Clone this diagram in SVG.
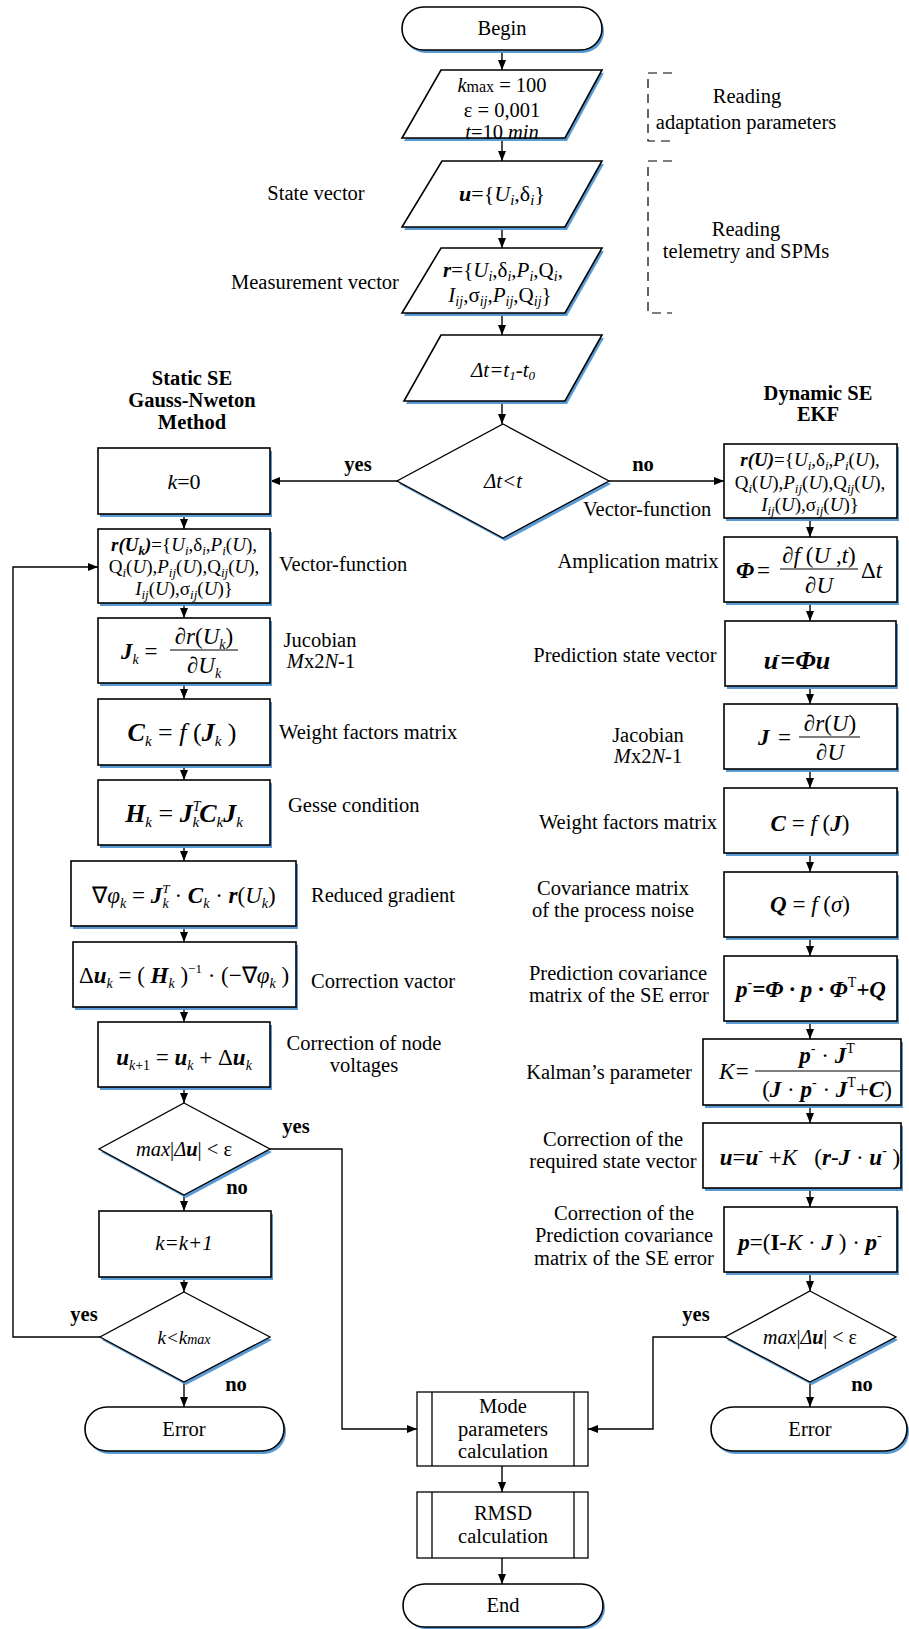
<svg xmlns="http://www.w3.org/2000/svg" width="909" height="1629" viewBox="0 0 909 1629">
<style>
.n{fill:#fff;stroke:#000;stroke-width:1.6}
.nd{fill:#fff;stroke:#000;stroke-width:1.3}
.sh{fill:#5B9BD5}
.c{fill:none;stroke:#000;stroke-width:1.4}
.br{fill:none;stroke:#000;stroke-width:1.2;stroke-dasharray:9,6}
text{font-family:"Liberation Serif","Times New Roman",serif;fill:#000}
.l{font-size:20.5px}
.m{font-size:23px}
.i{font-style:italic}
.b{font-weight:bold}
.bi{font-weight:bold;font-style:italic}
.mid{text-anchor:middle}
</style>
<defs>
<marker id="a" markerWidth="10" markerHeight="10" refX="10" refY="5" orient="auto" markerUnits="userSpaceOnUse"><path d="M0,1 L10,5 L0,9 z" fill="#000"/></marker>
</defs>
<rect width="909" height="1629" fill="#fff"/>

<g id="connectors">
<path class="c" d="M502,50 V70" marker-end="url(#a)"/>
<path class="c" d="M502,138 V161" marker-end="url(#a)"/>
<path class="c" d="M502,227 V248" marker-end="url(#a)"/>
<path class="c" d="M502,313 V335" marker-end="url(#a)"/>
<path class="c" d="M502,401 V424" marker-end="url(#a)"/>
<path class="c" d="M397,481 H270" marker-end="url(#a)"/>
<path class="c" d="M609,481 H724" marker-end="url(#a)"/>
<path class="c" d="M184,514 V529" marker-end="url(#a)"/>
<path class="c" d="M184,603 V618" marker-end="url(#a)"/>
<path class="c" d="M184,683 V699" marker-end="url(#a)"/>
<path class="c" d="M184,765 V780" marker-end="url(#a)"/>
<path class="c" d="M184,845 V861" marker-end="url(#a)"/>
<path class="c" d="M184,926 V942" marker-end="url(#a)"/>
<path class="c" d="M184,1007 V1022" marker-end="url(#a)"/>
<path class="c" d="M184,1087 V1103" marker-end="url(#a)"/>
<path class="c" d="M184,1195 V1211" marker-end="url(#a)"/>
<path class="c" d="M184,1277 V1292" marker-end="url(#a)"/>
<path class="c" d="M184,1382 V1407" marker-end="url(#a)"/>
<path class="c" d="M100,1337 H13 V567 H98" marker-end="url(#a)"/>
<path class="c" d="M270,1149 H342 V1429 H417" marker-end="url(#a)"/>
<path class="c" d="M810,518 V537" marker-end="url(#a)"/>
<path class="c" d="M810,602 V621" marker-end="url(#a)"/>
<path class="c" d="M810,686 V704" marker-end="url(#a)"/>
<path class="c" d="M810,769 V788" marker-end="url(#a)"/>
<path class="c" d="M810,853 V872" marker-end="url(#a)"/>
<path class="c" d="M810,937 V956" marker-end="url(#a)"/>
<path class="c" d="M810,1021 V1039" marker-end="url(#a)"/>
<path class="c" d="M810,1105 V1123" marker-end="url(#a)"/>
<path class="c" d="M810,1188 V1207" marker-end="url(#a)"/>
<path class="c" d="M810,1272 V1291" marker-end="url(#a)"/>
<path class="c" d="M810,1382 V1407" marker-end="url(#a)"/>
<path class="c" d="M725,1337 H653 V1429 H588" marker-end="url(#a)"/>
<path class="c" d="M502,1466 V1492" marker-end="url(#a)"/>
<path class="c" d="M502,1558 V1584" marker-end="url(#a)"/>
</g>

<g id="labels">
<text class="l" x="316" y="200" text-anchor="middle">State vector</text>
<text class="l" x="315" y="289" text-anchor="middle">Measurement vector</text>
<path class="br" d="M672,73 H648 V141 H672"/>
<text class="l mid" x="747" y="103">Reading</text>
<text class="l mid" x="746" y="129">adaptation parameters</text>
<path class="br" d="M672,161 H648 V313 H672"/>
<text class="l mid" x="746" y="236">Reading</text>
<text class="l mid" x="746" y="258">telemetry and SPMs</text>
<text class="l b mid" x="192" y="385">Static SE</text>
<text class="l b mid" x="192" y="407">Gauss-Nweton</text>
<text class="l b mid" x="192" y="429">Method</text>
<text class="l b mid" x="818" y="400">Dynamic SE</text>
<text class="l b mid" x="818" y="421">EKF</text>
<text class="l b mid" x="358" y="471">yes</text>
<text class="l b mid" x="643" y="471">no</text>
<text class="l" x="279" y="571">Vector-function</text>
<text class="l" x="583" y="516">Vector-function</text>
<text class="l mid" x="320" y="647">Jucobian</text>
<text class="l mid" x="321" y="668"><tspan class="i">M</tspan>x2<tspan class="i">N</tspan>-1</text>
<text class="l" x="279" y="739">Weight factors matrix</text>
<text class="l" x="288" y="812">Gesse condition</text>
<text class="l" x="311" y="902">Reduced gradient</text>
<text class="l" x="311" y="988">Correction vactor</text>
<text class="l mid" x="364" y="1050">Correction of node</text>
<text class="l mid" x="364" y="1072">voltages</text>
<text class="l b mid" x="296" y="1133">yes</text>
<text class="l b mid" x="237" y="1194">no</text>
<text class="l b mid" x="84" y="1321">yes</text>
<text class="l b mid" x="236" y="1391">no</text>
<text class="l mid" x="638" y="568">Amplication matrix</text>
<text class="l mid" x="625" y="662">Prediction state vector</text>
<text class="l mid" x="648" y="742">Jacobian</text>
<text class="l mid" x="648" y="763"><tspan class="i">M</tspan>x2<tspan class="i">N</tspan>-1</text>
<text class="l mid" x="628" y="829">Weight factors matrix</text>
<text class="l mid" x="613" y="895">Covariance matrix</text>
<text class="l mid" x="613" y="917">of the process noise</text>
<text class="l mid" x="618" y="980">Prediction covariance</text>
<text class="l mid" x="619" y="1002">matrix of the SE error</text>
<text class="l mid" x="609" y="1079">Kalman’s parameter</text>
<text class="l mid" x="613" y="1146">Correction of the</text>
<text class="l mid" x="613" y="1168">required state vector</text>
<text class="l mid" x="624" y="1220">Correction of the</text>
<text class="l mid" x="624" y="1242">Prediction covariance</text>
<text class="l mid" x="624" y="1265">matrix of the SE error</text>
<text class="l b mid" x="696" y="1321">yes</text>
<text class="l b mid" x="862" y="1391">no</text>
</g>

<g id="begin">
<rect class="sh" x="404" y="10" width="200" height="43" rx="21.5"/>
<rect class="n" x="402" y="7" width="200" height="43" rx="21.5"/>
<text class="l mid" x="502" y="35">Begin</text>
</g>

<g id="params">
<polygon class="sh" points="443,73 604,73 567,141 404,141"/>
<polygon class="n" points="441,70 602,70 565,138 402,138"/>
<text class="l mid" x="502" y="92"><tspan class="i">k</tspan><tspan font-size="16">max</tspan> = 100</text>
<text class="l mid" x="502" y="117">ε = 0,001</text>
<text class="l mid" x="502" y="139"><tspan class="i">t</tspan>=10 <tspan class="i">min</tspan></text>
</g>

<g id="state">
<polygon class="sh" points="444,164 604,164 567,230 404,230"/>
<polygon class="n" points="442,161 602,161 565,227 402,227"/>
<text class="mid" x="502" y="201" font-size="22"><tspan class="bi">u</tspan>={<tspan class="i">U</tspan><tspan class="i" font-size="15" dy="4">i</tspan><tspan dy="-4">,δ</tspan><tspan class="i" font-size="15" dy="4">i</tspan><tspan dy="-4">}</tspan></text>
</g>

<g id="measure">
<polygon class="sh" points="443,251 604,251 567,316 404,316"/>
<polygon class="n" points="441,248 602,248 565,313 402,313"/>
<text class="mid" x="503" y="277" font-size="21"><tspan class="bi">r</tspan>={<tspan class="i">U</tspan><tspan class="i" font-size="14" dy="4">i</tspan><tspan dy="-4">,δ</tspan><tspan class="i" font-size="14" dy="4">i</tspan><tspan dy="-4">,</tspan><tspan class="i">P</tspan><tspan class="i" font-size="14" dy="4">i</tspan><tspan dy="-4">,Q</tspan><tspan class="i" font-size="14" dy="4">i</tspan><tspan dy="-4">,</tspan></text>
<text class="mid" x="500" y="302" font-size="21"><tspan class="i">I</tspan><tspan class="i" font-size="14" dy="4">ij</tspan><tspan dy="-4">,σ</tspan><tspan class="i" font-size="14" dy="4">ij</tspan><tspan dy="-4">,</tspan><tspan class="i">P</tspan><tspan class="i" font-size="14" dy="4">ij</tspan><tspan dy="-4">,Q</tspan><tspan class="i" font-size="14" dy="4">ij</tspan><tspan dy="-4">}</tspan></text>
</g>

<g id="deltat">
<polygon class="sh" points="443,338 604,338 567,404 406,404"/>
<polygon class="n" points="441,335 602,335 565,401 404,401"/>
<text class="i mid" x="503" y="377" font-size="21">Δt=t<tspan font-size="13" dy="3">1</tspan><tspan dy="-3">-t</tspan><tspan font-size="13" dy="3">0</tspan></text>
</g>

<g id="dec-dt">
<polygon class="sh" points="505,427 611,484 505,541 399,484"/>
<polygon class="nd" points="503,424 609,481 503,538 397,481"/>
<text class="i mid" x="503" y="488" font-size="21">Δt&lt;t</text>
</g>

<g id="k0">
<rect class="sh" x="100" y="451" width="172" height="66"/>
<rect class="n" x="98" y="448" width="172" height="66"/>
<text class="mid" x="184" y="489" font-size="22"><tspan class="i">k</tspan>=0</text>
</g>

<g id="rUk">
<rect class="sh" x="100" y="532" width="172" height="74"/>
<rect class="n" x="98" y="529" width="172" height="74"/>
<text class="mid" x="184" y="551" font-size="19"><tspan class="bi">r(U</tspan><tspan class="bi" font-size="13" dy="4">k</tspan><tspan class="bi" dy="-4">)</tspan>={<tspan class="i">U</tspan><tspan class="i" font-size="13" dy="4">i</tspan><tspan dy="-4">,δ</tspan><tspan class="i" font-size="13" dy="4">i</tspan><tspan dy="-4">,</tspan><tspan class="i">P</tspan><tspan class="i" font-size="13" dy="4">i</tspan><tspan dy="-4">(</tspan><tspan class="i">U</tspan>),</text>
<text class="mid" x="184" y="573" font-size="19">Q<tspan class="i" font-size="13" dy="4">i</tspan><tspan dy="-4">(</tspan><tspan class="i">U</tspan>),<tspan class="i">P</tspan><tspan class="i" font-size="13" dy="4">ij</tspan><tspan dy="-4">(</tspan><tspan class="i">U</tspan>),Q<tspan class="i" font-size="13" dy="4">ij</tspan><tspan dy="-4">(</tspan><tspan class="i">U</tspan>),</text>
<text class="mid" x="184" y="595" font-size="19"><tspan class="i">I</tspan><tspan class="i" font-size="13" dy="4">ij</tspan><tspan dy="-4">(</tspan><tspan class="i">U</tspan>),σ<tspan class="i" font-size="13" dy="4">ij</tspan><tspan dy="-4">(</tspan><tspan class="i">U</tspan>)}</text>
</g>

<g id="Jk">
<rect class="sh" x="100" y="621" width="172" height="65"/>
<rect class="n" x="98" y="618" width="172" height="65"/>
<text class="m" x="121" y="659"><tspan class="bi">J</tspan><tspan class="i" font-size="14" dy="5">k</tspan><tspan dy="-5"> = </tspan></text>
<line x1="170" y1="650" x2="238" y2="650" stroke="#000" stroke-width="1"/>
<text class="m mid" x="204" y="644">∂<tspan class="i">r</tspan>(<tspan class="i">U</tspan><tspan class="i" font-size="14" dy="5">k</tspan><tspan dy="-5">)</tspan></text>
<text class="m mid" x="204" y="673">∂<tspan class="i">U</tspan><tspan class="i" font-size="14" dy="5">k</tspan></text>
</g>

<g id="Ck">
<rect class="sh" x="100" y="702" width="172" height="66"/>
<rect class="n" x="98" y="699" width="172" height="66"/>
<text class="mid" x="182" y="741" font-size="26"><tspan class="bi">C</tspan><tspan class="i" font-size="15" dy="5">k</tspan><tspan dy="-5"> = </tspan><tspan class="i">f</tspan> (<tspan class="bi">J</tspan><tspan class="i" font-size="15" dy="5">k</tspan><tspan dy="-5"> )</tspan></text>
</g>

<g id="Hk">
<rect class="sh" x="100" y="783" width="172" height="65"/>
<rect class="n" x="98" y="780" width="172" height="65"/>
<text class="mid" x="184" y="822" font-size="26"><tspan class="bi">H</tspan><tspan class="i" font-size="15" dy="5">k</tspan><tspan dy="-5"> = </tspan><tspan class="bi">J</tspan><tspan class="i" font-size="14" dy="-11">T</tspan><tspan class="i" font-size="15" dx="-8" dy="16">k</tspan><tspan class="bi" dy="-5">C</tspan><tspan class="i" font-size="15" dy="5">k</tspan><tspan class="bi" dy="-5">J</tspan><tspan class="i" font-size="15" dy="5">k</tspan></text>
</g>

<g id="grad">
<rect class="sh" x="73" y="864" width="225" height="65"/>
<rect class="n" x="71" y="861" width="225" height="65"/>
<text class="m mid" x="184" y="903">∇<tspan class="i">φ</tspan><tspan class="i" font-size="14" dy="5">k</tspan><tspan dy="-5"> = </tspan><tspan class="bi">J</tspan><tspan class="i" font-size="13" dy="-10">T</tspan><tspan class="i" font-size="14" dx="-7" dy="15">k</tspan><tspan dy="-5"> · </tspan><tspan class="bi">C</tspan><tspan class="i" font-size="14" dy="5">k</tspan><tspan dy="-5"> · </tspan><tspan class="bi">r</tspan>(<tspan class="i">U</tspan><tspan class="i" font-size="14" dy="5">k</tspan><tspan dy="-5">)</tspan></text>
</g>

<g id="du">
<rect class="sh" x="75" y="945" width="223" height="65"/>
<rect class="n" x="73" y="942" width="223" height="65"/>
<text class="m mid" x="184" y="983">Δ<tspan class="bi">u</tspan><tspan class="i" font-size="14" dy="5">k</tspan><tspan dy="-5"> = ( </tspan><tspan class="bi">H</tspan><tspan class="i" font-size="14" dy="5">k</tspan><tspan dy="-5"> )</tspan><tspan font-size="13" dy="-10">−1</tspan><tspan dy="10"> · (−∇</tspan><tspan class="i">φ</tspan><tspan class="i" font-size="14" dy="5">k</tspan><tspan dy="-5"> )</tspan></text>
</g>

<g id="uk1">
<rect class="sh" x="100" y="1025" width="172" height="65"/>
<rect class="n" x="98" y="1022" width="172" height="65"/>
<text class="m mid" x="184" y="1065"><tspan class="bi">u</tspan><tspan font-size="14" dy="5"><tspan class="i">k</tspan>+1</tspan><tspan dy="-5"> = </tspan><tspan class="bi">u</tspan><tspan class="i" font-size="14" dy="5">k</tspan><tspan dy="-5"> + Δ</tspan><tspan class="bi">u</tspan><tspan class="i" font-size="14" dy="5">k</tspan></text>
</g>

<g id="dec-eps1">
<polygon class="sh" points="186,1106 272,1152 186,1198 101,1152"/>
<polygon class="nd" points="184,1103 270,1149 184,1195 99,1149"/>
<text class="mid" x="184" y="1156" font-size="20.5"><tspan class="i">max</tspan>|<tspan class="i">Δ</tspan><tspan class="bi">u</tspan>|  &lt; ε</text>
</g>

<g id="kinc">
<rect class="sh" x="101" y="1214" width="172" height="66"/>
<rect class="n" x="99" y="1211" width="172" height="66"/>
<text class="i mid" x="184" y="1250" font-size="21">k=k+1</text>
</g>

<g id="dec-kmax">
<polygon class="sh" points="186,1295 272,1340 186,1385 102,1340"/>
<polygon class="nd" points="184,1292 270,1337 184,1382 100,1337"/>
<text class="i mid" x="184" y="1344" font-size="19">k&lt;k<tspan font-size="14">max</tspan></text>
</g>

<g id="err-left">
<rect class="sh" x="87" y="1410" width="199" height="44" rx="22"/>
<rect class="n" x="85" y="1407" width="199" height="44" rx="22"/>
<text class="l mid" x="184" y="1436">Error</text>
</g>

<g id="rU">
<rect class="sh" x="726" y="447" width="173" height="74"/>
<rect class="n" x="724" y="444" width="173" height="74"/>
<text class="mid" x="810" y="466" font-size="19"><tspan class="bi">r(U)</tspan>={<tspan class="i">U</tspan><tspan class="i" font-size="13" dy="4">i</tspan><tspan dy="-4">,δ</tspan><tspan class="i" font-size="13" dy="4">i</tspan><tspan dy="-4">,</tspan><tspan class="i">P</tspan><tspan class="i" font-size="13" dy="4">i</tspan><tspan dy="-4">(</tspan><tspan class="i">U</tspan>),</text>
<text class="mid" x="810" y="489" font-size="19">Q<tspan class="i" font-size="13" dy="4">i</tspan><tspan dy="-4">(</tspan><tspan class="i">U</tspan>),<tspan class="i">P</tspan><tspan class="i" font-size="13" dy="4">ij</tspan><tspan dy="-4">(</tspan><tspan class="i">U</tspan>),Q<tspan class="i" font-size="13" dy="4">ij</tspan><tspan dy="-4">(</tspan><tspan class="i">U</tspan>),</text>
<text class="mid" x="810" y="511" font-size="19"><tspan class="i">I</tspan><tspan class="i" font-size="13" dy="4">ij</tspan><tspan dy="-4">(</tspan><tspan class="i">U</tspan>),σ<tspan class="i" font-size="13" dy="4">ij</tspan><tspan dy="-4">(</tspan><tspan class="i">U</tspan>)}</text>
</g>

<g id="phi">
<rect class="sh" x="726" y="540" width="173" height="65"/>
<rect class="n" x="724" y="537" width="173" height="65"/>
<text class="m bi" x="736" y="578">Φ</text>
<text class="m" x="757" y="578">=</text>
<line x1="780" y1="569" x2="858" y2="569" stroke="#000" stroke-width="1"/>
<text class="m mid" x="819" y="563">∂<tspan class="i">f</tspan> (<tspan class="i">U</tspan> ,<tspan class="i">t</tspan>)</text>
<text class="m mid" x="819" y="593">∂<tspan class="i">U</tspan></text>
<text class="m" x="861" y="578">Δ<tspan class="i">t</tspan></text>
</g>

<g id="pred">
<rect class="sh" x="727" y="624" width="171" height="65"/>
<rect class="n" x="725" y="621" width="171" height="65"/>
<text class="bi mid" x="797" y="669" font-size="26">u<tspan font-size="15" dx="-3" dy="-10">-</tspan><tspan dy="10">=Φu</tspan></text>
</g>

<g id="jac">
<rect class="sh" x="726" y="707" width="173" height="65"/>
<rect class="n" x="724" y="704" width="173" height="65"/>
<text class="m bi" x="758" y="745">J</text>
<text class="m" x="778" y="745">=</text>
<line x1="799" y1="737" x2="860" y2="737" stroke="#000" stroke-width="1"/>
<text class="m mid" x="830" y="731">∂<tspan class="i">r</tspan>(<tspan class="i">U</tspan>)</text>
<text class="m mid" x="830" y="760">∂<tspan class="i">U</tspan></text>
</g>

<g id="wC">
<rect class="sh" x="726" y="791" width="173" height="65"/>
<rect class="n" x="724" y="788" width="173" height="65"/>
<text class="m mid" x="810" y="831"><tspan class="bi">C</tspan> = <tspan class="i">f</tspan> (<tspan class="bi">J</tspan>)</text>
</g>

<g id="covQ">
<rect class="sh" x="726" y="875" width="173" height="65"/>
<rect class="n" x="724" y="872" width="173" height="65"/>
<text class="m mid" x="810" y="912"><tspan class="bi">Q</tspan> = <tspan class="i">f</tspan> (<tspan class="i">σ</tspan>)</text>
</g>

<g id="predcov">
<rect class="sh" x="726" y="959" width="173" height="65"/>
<rect class="n" x="724" y="956" width="173" height="65"/>
<text class="m bi mid" x="811" y="997">p<tspan font-size="14" font-style="normal" dy="-10">-</tspan><tspan dy="10">=Φ · p · Φ</tspan><tspan font-size="14" font-weight="normal" font-style="normal" dy="-10">T</tspan><tspan dy="10">+Q</tspan></text>
</g>

<g id="kalman">
<rect class="sh" x="705" y="1042" width="198" height="66"/>
<rect class="n" x="703" y="1039" width="198" height="66"/>
<text class="m i" x="719" y="1079">K=</text>
<line x1="755" y1="1071" x2="900" y2="1071" stroke="#000" stroke-width="1"/>
<text class="m mid" x="827" y="1063"><tspan class="bi">p</tspan><tspan font-size="14" dy="-10">-</tspan><tspan dy="10"> · </tspan><tspan class="bi">J</tspan><tspan font-size="14" dy="-10">T</tspan></text>
<text class="m mid" x="827" y="1097">(<tspan class="bi">J</tspan> · <tspan class="bi">p</tspan><tspan font-size="14" dy="-10">-</tspan><tspan dy="10"> · </tspan><tspan class="bi">J</tspan><tspan font-size="14" dy="-10">T</tspan><tspan dy="10">+</tspan><tspan class="bi">C</tspan>)</text>
</g>

<g id="corr-u">
<rect class="sh" x="705" y="1126" width="198" height="65"/>
<rect class="n" x="703" y="1123" width="198" height="65"/>
<text class="m mid" x="810" y="1165"><tspan class="bi">u</tspan>=<tspan class="bi">u</tspan><tspan font-size="14" dy="-10">-</tspan><tspan dy="10"> +</tspan><tspan class="i">K</tspan><tspan xml:space="preserve">   (</tspan><tspan class="bi">r</tspan>-<tspan class="bi">J</tspan> · <tspan class="bi">u</tspan><tspan font-size="14" dy="-10">-</tspan><tspan dy="10"> )</tspan></text>
</g>

<g id="corr-p">
<rect class="sh" x="726" y="1210" width="173" height="65"/>
<rect class="n" x="724" y="1207" width="173" height="65"/>
<text class="m mid" x="810" y="1250"><tspan class="bi">p</tspan>=(<tspan class="b">I</tspan>-<tspan class="i">K</tspan> · <tspan class="bi">J</tspan> ) · <tspan class="bi">p</tspan><tspan font-size="14" dy="-10">-</tspan></text>
</g>

<g id="dec-eps2">
<polygon class="sh" points="812,1294 898,1340 812,1385 727,1340"/>
<polygon class="nd" points="810,1291 896,1337 810,1382 725,1337"/>
<text class="mid" x="810" y="1344" font-size="20"><tspan class="i">max</tspan>|<tspan class="i">Δ</tspan><tspan class="bi">u</tspan>| &lt; ε</text>
</g>

<g id="err-right">
<rect class="sh" x="713" y="1410" width="196" height="44" rx="22"/>
<rect class="n" x="711" y="1407" width="196" height="44" rx="22"/>
<text class="l mid" x="810" y="1436">Error</text>
</g>

<g id="mode">
<rect class="n" x="417" y="1392" width="171" height="74" style="stroke-width:1.3"/>
<line x1="432" y1="1392" x2="432" y2="1466" stroke="#000" stroke-width="1.3"/>
<line x1="574" y1="1392" x2="574" y2="1466" stroke="#000" stroke-width="1.3"/>
<text class="l mid" x="503" y="1413">Mode</text>
<text class="l mid" x="503" y="1436">parameters</text>
<text class="l mid" x="503" y="1458">calculation</text>
</g>

<g id="rmsd">
<rect class="n" x="417" y="1492" width="171" height="66" style="stroke-width:1.3"/>
<line x1="432" y1="1492" x2="432" y2="1558" stroke="#000" stroke-width="1.3"/>
<line x1="574" y1="1492" x2="574" y2="1558" stroke="#000" stroke-width="1.3"/>
<text class="l mid" x="503" y="1520">RMSD</text>
<text class="l mid" x="503" y="1543">calculation</text>
</g>

<g id="end">
<rect class="sh" x="405" y="1587" width="200" height="42" rx="21"/>
<rect class="n" x="403" y="1584" width="200" height="43" rx="21.5"/>
<text class="l mid" x="503" y="1612">End</text>
</g>
</svg>
